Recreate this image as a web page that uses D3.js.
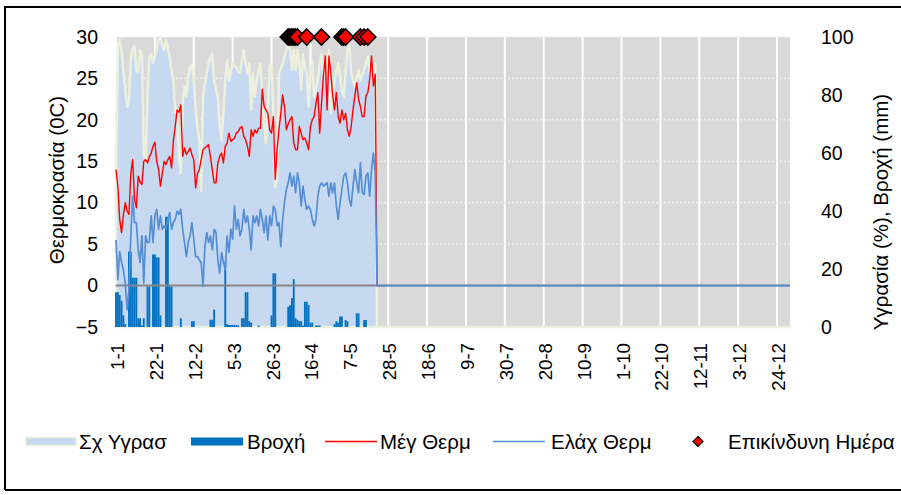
<!DOCTYPE html>
<html>
<head>
<meta charset="utf-8">
<script src="https://cdn.jsdelivr.net/npm/d3@7"></script>
<style>
  html, body { margin: 0; padding: 0; background: #ffffff; }
  svg { display: block; }
  text { font-family: "Liberation Sans", Arial, sans-serif; fill: #000; }
</style>
</head>
<body>
<svg id="chart" width="901" height="495"></svg>
<script>
// ---- DATA (day index 0 = 1 Jan, 365 days on the category axis) ----
const tickLabels = ["1-1","22-1","12-2","5-3","26-3","16-4","7-5","28-5","18-6","9-7","30-7","20-8","10-9","1-10","22-10","12-11","3-12","24-12"];
const tickDays = [0,21,42,63,84,105,126,147,168,189,210,231,252,273,294,315,336,357];

// Max temperature (°C), 1 Jan .. 21 May
const tmax = [
  14,12,8,6.4,8.5,10,9,8.6,13.5,15.2,
  10.5,9.4,13.2,12.5,12.2,15,15.2,14.8,15.5,16,
  16.8,17.3,15,14,12,13.5,15,14.6,15.2,15.6,
  14.2,17.5,19.2,21.2,20.9,21.8,15.6,16.6,15.8,16.2,
  16.6,15.8,15.2,11.8,13.5,14,15.2,16.4,16.6,16.8,
  17,15.6,14,12.4,12.4,14.8,15.6,16,14.8,16.8,
  17.2,18.4,17.4,17.6,17.8,18.4,18.6,19,19.2,18,
  17.6,16.8,15.6,18.8,18,18.8,18.4,19,19,23.7,
  21.6,21.2,20.8,18.8,18.4,20.4,12.8,16.4,18.8,20.8,
  23,21.6,18.8,19.5,20,20.4,17.2,16.4,16.4,19.2,
  18.4,17.6,17.8,17.2,16.4,19.2,20,20.4,22,23.3,
  18.4,22,25.3,27.7,21.2,27.7,25.7,22.9,21.2,23.3,
  20.4,19.6,21.2,20,20.8,18.8,18,19.2,21.2,22.9,
  24.5,22.5,21.6,20.4,20.4,22.9,23.3,24.9,27.7,24.1,25.5
];
// Min temperature (°C)
const tmin = [
  5.5,0.7,4.1,2.8,1.9,0.3,-2.9,-0.5,6,10.8,
  7.6,7.6,4.3,2.8,6,0.3,6,5.2,5.2,8.4,
  5.2,8.4,9.2,6.8,8.4,6.8,7.2,6.8,8,8.8,
  6.8,7.6,8,9,8.6,9.2,6.8,5.2,3.5,5.2,
  6,7.6,5.6,3.5,3.5,3.1,2.8,-0.1,4.7,6.4,
  5.2,6,4.3,6.8,6.4,3.1,1.5,4,2.8,1.9,
  6,4,6.8,5.6,9.6,6.8,8,6,6.8,9.2,
  7.6,8.4,6.8,4.3,8.4,7.6,8.4,7.2,9.2,8,
  6.4,8.4,5.5,8.4,7.2,9.6,9.2,7.2,7.6,4.7,
  8,10,11.6,12.4,13.6,12,13.2,11.2,13.6,12.4,
  9.6,12,10.4,9.2,9.6,9.2,8,7.2,8,10.8,
  12,12.4,12,12.2,12.4,10.8,12.4,11.2,12.4,9.6,
  8,10,11.6,13.2,13.6,12.4,10.4,9.6,12,14,
  12.4,11.2,14.8,11.2,11,13.2,13.6,10.8,14,16,13.6
];
// Relative humidity (%)
const humidity = [
  55,97,99,95,88,82,76,78,92,96,
  97,88.6,88,95.5,94,60,56.5,80,93,94,
  91,93.5,96,99,100,97,95.5,99,96,93,
  88,85,74,75,58.7,53,77,82.9,79.4,86.3,
  89.8,90.5,85,75,68.4,64.5,47,79.4,84,87.5,
  91,93,94.4,85,82,79.4,70,64.5,73.7,85,
  92,85,88,91,90,89.5,88,87.5,92,95.5,
  91,87.5,91,74.8,87.5,79.4,85,88,91,79.4,
  70.2,63.3,75,90.5,89.5,73.7,48.4,51.7,87.5,89,
  90.5,93,95.5,97.7,95.5,88.6,95.5,88.6,95.5,91,
  81.7,94,90,87,76,87,91.8,79.4,82,85,
  91,94,86.3,91.8,88.6,95.5,73.7,80,85,88,
  91,86,81,79.4,88,95.5,97.7,87.5,85,82.9,
  86,88.6,85,87,88.6,91,93.2,88,85,88.6,91
];
// Rainfall (mm)
const rain = [
  12,12,11,9,4,1,0,26,26,17,
  17,17,3,3,0.5,3,0,14,14,0,
  25,25,24,24,4,0,0,38,38,14,
  14,0,0,0,0,3,0,0,0,0,
  0,2,2,0,0,0,0,0,0,0,
  0,2.5,2.5,6,0,0,0,0,0,22.5,
  1,0.7,0.7,0.7,0.7,0.7,0.5,0,3,3,
  12,12,2,1.5,0,0,0,0.5,0,0,
  0,0,0,0,4,18.5,18.5,0,0,0,
  0,0,0,7,7.5,10,16.5,3,2.5,2,
  2,0.5,8.7,8.7,7.6,1.5,1.5,0,0.5,0.5,
  0.5,0,0,0,0,0,0,0,1,2,
  1.5,3.6,3.6,0,2.4,2,0,0,0,0,
  4.7,4.7,0,0,2.4,2.4,0,0,0,0,0
];
// Dangerous days (plotted at 30 °C)
const dangerDays = [93,94,95,96,97,98,103,111,122,123,124,132,134,136];
const dangerValue = 30;
const nDays = 365;

// ---- LAYOUT ----
const svg = d3.select("#chart");
const L = 116, R = 790, T = 37, B = 327;
const FS_X = "18.67px";   // rotated date labels
const FS_Y = "19.5px";    // value tick labels
const FS_T = "20.5px";    // titles and legend

const x = d3.scaleLinear().domain([0, nDays - 1]).range([L, R]);
const yL = d3.scaleLinear().domain([-5, 30]).range([B, T]);
const yR = d3.scaleLinear().domain([0, 100]).range([B, T]);
const step = x(1) - x(0);

// full-year series (days after the last reading are plotted as 0 in the original)
const days = d3.range(nDays);
const full = arr => days.map(i => (i < arr.length ? arr[i] : 0));
const tmaxF = full(tmax), tminF = full(tmin), humF = full(humidity), rainF = full(rain);

// clip so the red 0-run stays hidden under the blue 0-run (as in the original)
svg.append("defs").append("clipPath").attr("id", "redclip")
  .append("rect").attr("x", 0).attr("y", 0)
  .attr("width", x(tmax.length) + 1).attr("height", 495);

// outer frame
svg.append("path").attr("d", `M5,490 L5,7 L905,7 M5,490 L905,490`)
  .attr("fill", "none").attr("stroke", "#000").attr("stroke-width", 2);

// plot background
svg.append("rect").attr("x", L).attr("y", T).attr("width", R - L).attr("height", B - T).attr("fill", "#d9d9d9");

// gridlines
const grid = svg.append("g");
grid.selectAll("line.v").data(tickDays).join("line")
  .attr("x1", d => x(d)).attr("x2", d => x(d)).attr("y1", T).attr("y2", B)
  .attr("stroke", "#ffffff").attr("stroke-width", 2);
grid.selectAll("line.h").data([30, 25, 20, 15, 10, 5]).join("line")
  .attr("x1", L).attr("x2", R).attr("y1", d => yL(d)).attr("y2", d => yL(d))
  .attr("stroke", "#f2f2f2").attr("stroke-width", 1.2).attr("stroke-dasharray", "2,2");

// humidity area
const area = d3.area().x((d, i) => x(i)).y0(yR(0)).y1(d => yR(d));
svg.append("path").datum(humF).attr("d", area)
  .attr("fill", "#c6d9f1").attr("stroke", "#ebf1de").attr("stroke-width", 2.5).attr("stroke-linejoin", "round");

// rainfall bars
svg.append("g").selectAll("rect").data(rainF.map((v, i) => ({ i, v })).filter(d => d.v > 0)).join("rect")
  .attr("x", d => x(d.i) - step / 2).attr("width", step)
  .attr("y", d => yR(d.v)).attr("height", d => yR(0) - yR(d.v))
  .attr("fill", "#0070c0");

// zero line (horizontal axis)
svg.append("line").attr("x1", L).attr("x2", R).attr("y1", yL(0)).attr("y2", yL(0))
  .attr("stroke", "#868686").attr("stroke-width", 2);

// temperature lines
const line = d3.line().x((d, i) => x(i)).y(d => yL(d));
svg.append("path").datum(tmaxF).attr("d", line).attr("fill", "none").attr("clip-path", "url(#redclip)")
  .attr("stroke", "#ff0000").attr("stroke-width", 1.4).attr("stroke-linejoin", "round");
svg.append("path").datum(tminF).attr("d", line).attr("fill", "none")
  .attr("stroke", "#558ed5").attr("stroke-width", 1.7).attr("stroke-linejoin", "round");

// danger markers
const diamond = r => `M0,${-r}L${r},0L0,${r}L${-r},0Z`;
svg.append("g").selectAll("path").data(dangerDays).join("path")
  .attr("transform", d => `translate(${x(d)},${yL(dangerValue)})`)
  .attr("d", diamond(8)).attr("fill", "#ff0000").attr("stroke", "#000").attr("stroke-width", 1.6);

// left axis
const axL = svg.append("g").attr("transform", `translate(${L},0)`)
  .call(d3.axisLeft(yL).tickValues([-5, 0, 5, 10, 15, 20, 25, 30]).tickSize(0).tickPadding(18).tickFormat(d3.format("d")));
axL.select(".domain").remove();
axL.selectAll("text").style("font-size", FS_Y).style("font-family", "Liberation Sans, Arial, sans-serif");

// right axis
const axR = svg.append("g").attr("transform", `translate(${R},0)`)
  .call(d3.axisRight(yR).tickValues([0, 20, 40, 60, 80, 100]).tickSize(0).tickPadding(31));
axR.select(".domain").remove();
axR.selectAll("text").style("font-size", FS_Y).style("font-family", "Liberation Sans, Arial, sans-serif");

// x axis labels (rotated)
const axX = svg.append("g").attr("transform", `translate(0,${B})`)
  .call(d3.axisBottom(x).tickValues(tickDays).tickSize(0).tickFormat((d, k) => tickLabels[k]));
axX.select(".domain").remove();
axX.selectAll("text")
  .attr("transform", "translate(1,16) rotate(-90)")
  .attr("text-anchor", "end").attr("x", 0).attr("y", 0).attr("dy", "0.35em")
  .style("font-size", FS_X).style("font-family", "Liberation Sans, Arial, sans-serif");

// axis titles
svg.append("text").attr("transform", "translate(57,180) rotate(-90)").attr("text-anchor", "middle")
  .attr("dy", "0.35em").style("font-size", FS_T).text("Θερμοκρασία (0C)");
svg.append("text").attr("transform", "translate(881,212) rotate(-90)").attr("text-anchor", "middle")
  .attr("dy", "0.35em").style("font-size", FS_T).text("Υγρασία (%), Βροχή (mm)");

// legend
const lg = svg.append("g");
const ly = 441.5;
lg.append("rect").attr("x", 26).attr("y", ly - 4).attr("width", 50).attr("height", 8)
  .attr("fill", "#c6d9f1").attr("stroke", "#ebf1de").attr("stroke-width", 1.5);
lg.append("text").attr("x", 79).attr("y", ly).attr("dy", "0.35em").style("font-size", FS_T).text("Σχ Υγρασ");
lg.append("rect").attr("x", 191).attr("y", ly - 4).attr("width", 52).attr("height", 8).attr("fill", "#0070c0");
lg.append("text").attr("x", 247).attr("y", ly).attr("dy", "0.35em").style("font-size", FS_T).text("Βροχή");
lg.append("line").attr("x1", 325).attr("x2", 377).attr("y1", ly).attr("y2", ly).attr("stroke", "#ff0000").attr("stroke-width", 1.5);
lg.append("text").attr("x", 380).attr("y", ly).attr("dy", "0.35em").style("font-size", FS_T).text("Μέγ Θερμ");
lg.append("line").attr("x1", 493).attr("x2", 545).attr("y1", ly).attr("y2", ly).attr("stroke", "#558ed5").attr("stroke-width", 1.5);
lg.append("text").attr("x", 551).attr("y", ly).attr("dy", "0.35em").style("font-size", FS_T).text("Ελάχ Θερμ");
lg.append("path").attr("transform", `translate(698,${ly})`).attr("d", diamond(5))
  .attr("fill", "#ff0000").attr("stroke", "#000").attr("stroke-width", 1.2);
lg.append("text").attr("x", 728).attr("y", ly).attr("dy", "0.35em").style("font-size", FS_T).text("Επικίνδυνη Ημέρα");
</script>
</body>
</html>
